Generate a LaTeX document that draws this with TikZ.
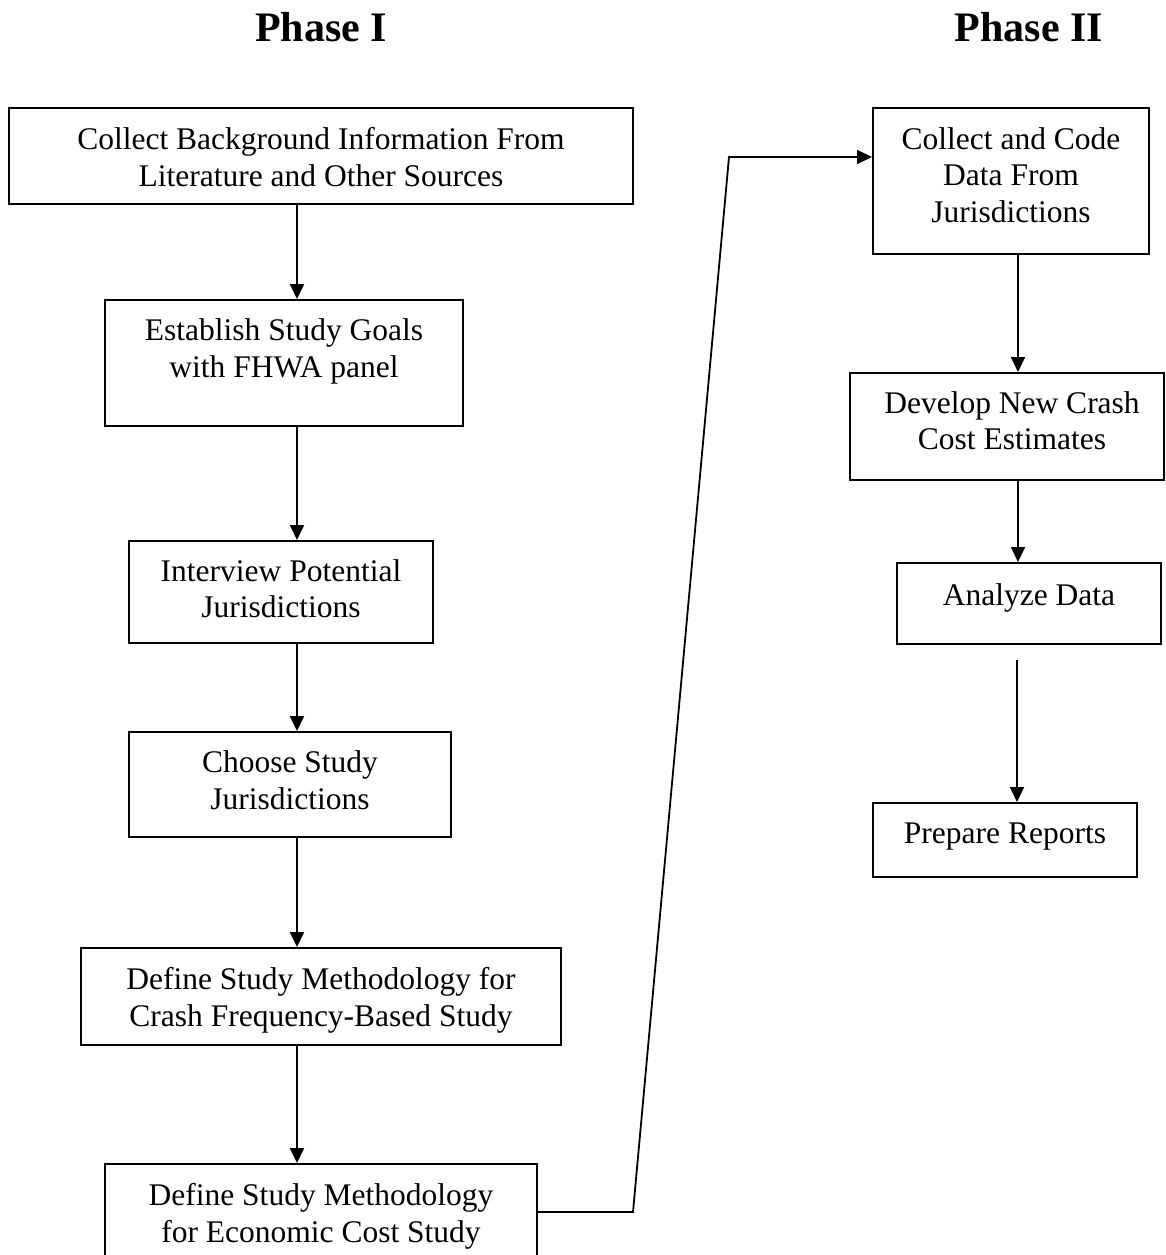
\documentclass[tikz,border=0pt]{standalone}
\usepackage{fontspec}
\setmainfont{Liberation Serif}
\usetikzlibrary{arrows.meta}
\begin{document}
\begin{tikzpicture}[x=1pt,y=-1pt,
  box/.style={draw=black, line width=2pt, rectangle, inner sep=0pt, fill=none},
  txt/.style={anchor=base, inner sep=0pt, font=\fontsize{31.5}{37}\selectfont},
  ttl/.style={anchor=base, inner sep=0pt, font=\fontsize{42}{48}\selectfont\bfseries},
  arr/.style={line width=1.8pt, -{Triangle[length=15pt,width=14pt]}}]
\useasboundingbox (0,0) rectangle (1165,1255);
\clip (0,0) rectangle (1165,1255);
\fill[white] (0,0) rectangle (1165,1255);

% titles
\node[ttl] (p1) at (321,42) {Phase I};
\node[ttl] (p2) at (1029,42) {Phase II};

% left column boxes
\node[box, minimum width=624pt, minimum height=96pt] (b1) at (321,156) {};
\node[txt] (t1a) at (321,149) {Collect Background Information From};
\node[txt] (t1b) at (321,186) {Literature and Other Sources};

\node[box, minimum width=358pt, minimum height=126pt] (b2) at (284,363) {};
\node[txt] (t2a) at (284,340) {Establish Study Goals};
\node[txt] (t2b) at (284,377) {with FHWA panel};

\node[box, minimum width=304pt, minimum height=102pt] (b3) at (281,592) {};
\node[txt] (t3a) at (281,581) {Interview Potential};
\node[txt] (t3b) at (281,617) {Jurisdictions};

\node[box, minimum width=322pt, minimum height=105pt] (b4) at (290,784.5) {};
\node[txt] (t4a) at (290,772) {Choose Study};
\node[txt] (t4b) at (290,809) {Jurisdictions};

\node[box, minimum width=480pt, minimum height=97pt] (b5) at (321,996.5) {};
\node[txt] (t5a) at (321,989) {Define Study Methodology for};
\node[txt] (t5b) at (321,1026) {Crash Frequency-Based Study};

\node[box, minimum width=432pt, minimum height=96pt] (b6) at (321,1212) {};
\node[txt] (t6a) at (321,1205) {Define Study Methodology};
\node[txt] (t6b) at (321,1242) {for Economic Cost Study};

% right column boxes
\node[box, minimum width=276pt, minimum height=146pt] (b7) at (1011,181) {};
\node[txt] (t7a) at (1011,149) {Collect and Code};
\node[txt] (t7b) at (1011,185) {Data From};
\node[txt] (t7c) at (1011,222) {Jurisdictions};

\node[box, minimum width=314pt, minimum height=107pt] (b8) at (1006.5,426.5) {};
\node[txt] (t8a) at (1012,413) {Develop New Crash};
\node[txt] (t8b) at (1012,449) {Cost Estimates};

\node[box, minimum width=264pt, minimum height=81pt] (b9) at (1029,603.5) {};
\node[txt] (t9a) at (1029,605) {Analyze Data};

\node[box, minimum width=264pt, minimum height=74pt] (b10) at (1005,840) {};
\node[txt] (t10a) at (1005,843) {Prepare Reports};

% connectors
\coordinate (colL) at (297,0);
\coordinate (colR) at (1018,0);
\draw[arr] (b1.south -| colL) -- (b2.north -| colL);
\draw[arr] (b2.south -| colL) -- (b3.north -| colL);
\draw[arr] (b3.south -| colL) -- (b4.north -| colL);
\draw[arr] (b4.south -| colL) -- (b5.north -| colL);
\draw[arr] (b5.south -| colL) -- (b6.north -| colL);

\coordinate (k1) at (633,1212);
\coordinate (k2) at (729,157);
\draw[arr] (b6.east) -- (k1) -- (k2) -- (k2 -| b7.west);

\draw[arr] (b7.south -| colR) -- (b8.north -| colR);
\draw[arr] (b8.south -| colR) -- (b9.north -| colR);
\coordinate (s9) at (1017,660);
\draw[arr] (s9) -- (b10.north -| s9);
\end{tikzpicture}
\end{document}
